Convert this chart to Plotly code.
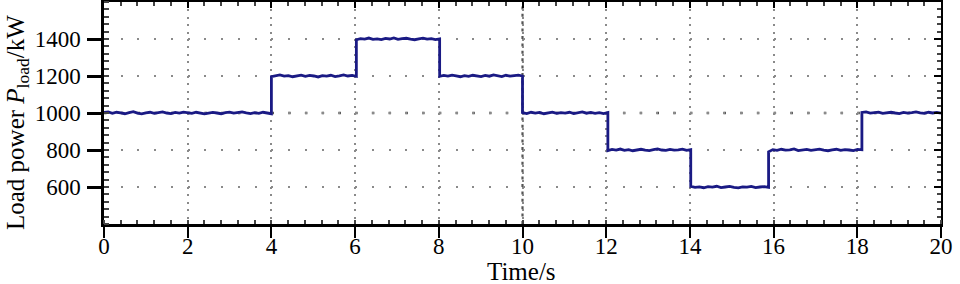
import numpy as np
import plotly.graph_objects as go

# Segment boundaries (s) and the read values in each segment (kW)
bounds = [0.0, 4.0, 6.03, 8.02, 10.0, 12.04, 14.02, 15.88, 18.11, 20.0]
seg1 = [1003, 1006, 998, 1004, 1001, 996, 1002, 1007, 999, 995, 1001, 1004, 998, 1002, 1006, 1000, 997,
        1003, 999, 1005, 1002, 998, 1004, 1001, 995, 999, 1003, 1000, 996, 1002, 1005, 999, 1003, 1006,
        1001, 997, 1002, 998, 1004, 999, 996]
seg2 = [1197, 1203, 1206, 1199, 1202, 1196, 1201, 1205, 1198, 1203, 1200, 1195, 1202, 1199, 1204, 1197,
        1201, 1206, 1200, 1203, 1198]
seg3 = [1396, 1402, 1399, 1405, 1398, 1401, 1397, 1403, 1400, 1406, 1398, 1402, 1404, 1399, 1396, 1401,
        1405, 1399, 1402, 1397, 1401]
seg4 = [1198, 1203, 1199, 1205, 1201, 1196, 1202, 1198, 1204, 1200, 1197, 1203, 1199, 1206, 1201, 1197,
        1204, 1199, 1202, 1205, 1200]
seg5 = [1002, 997, 1004, 999, 1003, 996, 1001, 1005, 998, 1002, 999, 1004, 997, 1001, 1006, 999, 1003,
        998, 1002, 997, 1003]
seg6 = [797, 803, 799, 805, 798, 802, 796, 801, 804, 799, 797, 802, 806, 800, 798, 803, 799, 801, 805,
        798, 802]
seg7 = [603, 598, 601, 596, 602, 599, 604, 597, 600, 603, 598, 595, 601, 599, 603, 597, 600, 602, 598]
seg8 = [790, 802, 798, 804, 799, 801, 806, 797, 800, 803, 798, 802, 805, 799, 796, 801, 804, 798, 802,
        800, 797, 803, 801]
seg9 = [1003, 1006, 999, 1002, 1005, 998, 1001, 1004, 1000, 997, 1003, 999, 1002, 1006, 1001, 998, 1004,
        1000, 1003, 999]
segments = [seg1, seg2, seg3, seg4, seg5, seg6, seg7, seg8, seg9]

x_ticks = [0, 2, 4, 6, 8, 10, 12, 14, 16, 18, 20]
y_ticks = [600, 800, 1000, 1200, 1400]
x_title = "Time/s"
y_title = "Load power <i>P</i><sub>load</sub>/kW"

t_all, p_all = [], []
for i, seg in enumerate(segments):
    t_all.extend(np.linspace(bounds[i], bounds[i + 1], len(seg)).tolist())
    p_all.extend(seg)

FONT = "Liberation Serif, Times New Roman, serif"
fig = go.Figure()
fig.add_trace(go.Scatter(x=t_all, y=p_all, mode="lines",
                         line=dict(color="#1a1a84", width=2.8), hoverinfo="skip", showlegend=False))
# invisible trace to create the mirrored (top/right) axes
fig.add_trace(go.Scatter(x=t_all, y=p_all, mode="lines", xaxis="x2", yaxis="y2",
                         line=dict(color="rgba(0,0,0,0)", width=0), hoverinfo="skip", showlegend=False))

xr = [0, 20]
yr = [400, 1600]
fig.update_layout(
    width=960, height=284,
    margin=dict(l=104, r=19, t=2, b=60),
    paper_bgcolor="white", plot_bgcolor="white",
    font=dict(family=FONT, color="black", size=23),
    xaxis=dict(range=xr, tickvals=x_ticks, ticks="outside", ticklen=11, tickwidth=2, tickcolor="black",
               showline=True, linecolor="black", linewidth=2.5, automargin=False,
               showgrid=True, gridcolor="#8a8a8a", gridwidth=2, griddash="2px,5.4px",
               zeroline=False, tickfont=dict(size=23, family=FONT), ticklabelstandoff=-11,
               minor=dict(dtick=0.4, tick0=0, ticks="inside", ticklen=4, tickwidth=1.5,
                          tickcolor="#444", showgrid=False)),
    yaxis=dict(range=yr, tickvals=y_ticks, ticks="outside", ticklen=14, tickwidth=2.5, tickcolor="black",
               showline=True, linecolor="black", linewidth=2.5, automargin=False,
               showgrid=True, gridcolor="#8a8a8a", gridwidth=2, griddash="2px,14.74px",
               zeroline=False, tickfont=dict(size=23, family=FONT), ticklabelstandoff=2,
               minor=dict(dtick=40, tick0=400, ticks="inside", ticklen=5, tickwidth=1.5,
                          tickcolor="#444", showgrid=False)),
    xaxis2=dict(range=xr, overlaying="x", side="top", tickvals=x_ticks, ticks="inside", ticklen=6,
                tickwidth=2, tickcolor="black", showticklabels=False, showline=True, linecolor="black",
                linewidth=2, showgrid=False, zeroline=False, automargin=False,
                minor=dict(dtick=0.4, tick0=0, ticks="inside", ticklen=4, tickwidth=1.5,
                           tickcolor="#444", showgrid=False)),
    yaxis2=dict(range=yr, overlaying="y", side="right", tickvals=y_ticks, ticks="inside", ticklen=7,
                tickwidth=2, tickcolor="black", showticklabels=False, showline=True, linecolor="black",
                linewidth=2, showgrid=False, zeroline=False, automargin=False,
                minor=dict(dtick=40, tick0=400, ticks="inside", ticklen=4, tickwidth=1.5,
                           tickcolor="#444", showgrid=False)),
)
# axis titles
fig.add_annotation(text=x_title, xref="paper", yref="paper", x=(521.5 - 104) / 837, y=-(271.5 - 224) / 222,
                   xanchor="center", yanchor="middle", showarrow=False,
                   font=dict(size=25, family=FONT, color="black"))
fig.add_annotation(text=y_title, xref="paper", yref="paper", x=-(104 - 17) / 837, y=(224 - 123) / 222,
                   xanchor="center", yanchor="middle", textangle=-90, showarrow=False,
                   font=dict(size=25, family=FONT, color="black"))
# denser grid line at t = 10 s and darker one at 1000 kW, as in the original
fig.add_shape(type="line", xref="x", yref="paper", x0=10, x1=10, y0=0, y1=1,
              line=dict(color="#555", width=2.2, dash="3px,4.4px"), layer="below")
fig.add_shape(type="line", xref="paper", yref="y", x0=0, x1=1, y0=1000, y1=1000,
              line=dict(color="#444", width=2.6, dash="2.5px,14.24px"), layer="below")

fig.write_html("out.html")
